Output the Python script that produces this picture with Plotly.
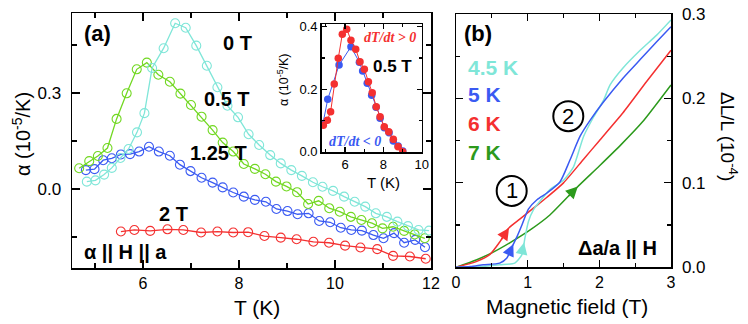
import numpy as np
import plotly.graph_objects as go

# ---------------- Panel (a): thermal expansion alpha(T) ----------------
T_0T = [4.83, 5.01, 5.19, 5.35, 5.53, 5.70, 5.875, 6.03, 6.19, 6.43, 6.67, 6.89, 7.11, 7.33, 7.55,
        7.76, 7.98, 8.20, 8.42, 8.65, 8.87, 9.09, 9.31, 9.54, 9.74, 9.96, 10.19, 10.41, 10.63,
        10.85, 11.08, 11.30, 11.52, 11.74, 11.96]
a_0T = [0.023, 0.027, 0.045, 0.066, 0.097, 0.125, 0.177, 0.237, 0.378, 0.44, 0.518, 0.504, 0.448,
        0.385, 0.318, 0.26, 0.224, 0.171, 0.1375, 0.106, 0.08, 0.059, 0.041, 0.021, 0.007, -0.006,
        -0.024, -0.04, -0.055, -0.076, -0.087, -0.102, -0.116, -0.128, -0.13]

T_05T = [4.67, 4.88, 5.06, 5.26, 5.45, 5.66, 5.87, 6.08, 6.32, 6.56, 6.78, 7.0, 7.22, 7.45, 7.66,
         7.88, 8.10, 8.33, 8.55, 8.77, 8.99, 9.21, 9.44, 9.66, 9.88, 10.10, 10.33, 10.55, 10.77,
         10.99, 11.21, 11.44, 11.66, 11.87]
a_05T = [0.065, 0.087, 0.103, 0.128, 0.219, 0.299, 0.374, 0.395, 0.357, 0.335, 0.298, 0.2625,
         0.226, 0.184, 0.145, 0.117, 0.078, 0.063, 0.046, 0.023, 0.008, -0.01, -0.047, -0.037,
         -0.06, -0.071, -0.087, -0.097, -0.107, -0.123, -0.118, -0.131, -0.142, -0.154]

T_125T = [4.81, 4.99, 5.17, 5.35, 5.54, 5.73, 5.92, 6.125, 6.33, 6.56, 6.77, 6.99, 7.22, 7.45,
          7.66, 7.88, 8.10, 8.33, 8.56, 8.78, 9.01, 9.22, 9.45, 9.67, 9.90, 10.12, 10.34, 10.56,
          10.80, 11.01, 11.23, 11.44, 11.67, 11.875]
a_125T = [0.059, 0.062, 0.09, 0.096, 0.108, 0.109, 0.117, 0.132, 0.117, 0.104, 0.076, 0.056,
          0.035, 0.02, 0.005, -0.011, -0.024, -0.034, -0.04, -0.0625, -0.069, -0.079, -0.076,
          -0.1, -0.104, -0.121, -0.128, -0.13, -0.144, -0.154, -0.138, -0.168, -0.159, -0.182]

T_2T = [5.54, 5.82, 6.15, 6.51, 6.84, 7.21, 7.55, 7.88, 8.19, 8.53, 8.87, 9.20, 9.55, 9.875,
        10.21, 10.53, 10.88, 11.21, 11.56, 11.89]
a_2T = [-0.133, -0.128, -0.131, -0.126, -0.128, -0.136, -0.133, -0.136, -0.135, -0.147, -0.152,
        -0.157, -0.165, -0.168, -0.177, -0.183, -0.188, -0.209, -0.211, -0.218]

# ---------------- Inset: 0.5 T, heating vs cooling ----------------
Ti_up = [4.87, 5.08, 5.25, 5.44, 5.65, 5.86, 6.09, 6.31, 6.56, 6.78, 7.01, 7.22, 7.42, 7.63,
         7.83, 8.05, 8.28, 8.52, 8.77, 9.01]
ai_up = [0.085, 0.101, 0.128, 0.217, 0.299, 0.376, 0.392, 0.357, 0.328, 0.288, 0.264, 0.224,
         0.189, 0.144, 0.112, 0.08, 0.064, 0.04, 0.016, 0.0]
Ti_dn = [4.85, 5.10, 5.69, 6.31, 6.75, 6.92, 7.16, 7.39, 7.62, 7.83, 8.05, 8.30, 8.52, 8.77, 9.01]
ai_dn = [0.09, 0.168, 0.277, 0.336, 0.286, 0.258, 0.219, 0.181, 0.142, 0.107, 0.077, 0.061,
         0.034, 0.018, 0.002]

# ---------------- Panel (b): magnetostriction ----------------
H_45 = [0, 0.3, 0.61, 0.82, 0.92, 0.96, 1.01, 1.08, 1.17, 1.31, 1.5, 1.64, 1.78, 1.92, 2.06,
        2.15, 2.33, 2.57, 2.8, 3.0]
L_45 = [0, 0.0005, 0.003, 0.005, 0.015, 0.034, 0.054, 0.068, 0.078, 0.092, 0.103, 0.119, 0.155,
        0.178, 0.198, 0.216, 0.236, 0.257, 0.275, 0.293]
H_5 = [0, 0.2, 0.38, 0.61, 0.71, 0.78, 0.85, 0.92, 1.01, 1.13, 1.27, 1.45, 1.59, 1.73, 1.87,
       2.06, 2.33, 2.57, 2.8, 3.0]
L_5 = [0, 0.001, 0.003, 0.005, 0.011, 0.024, 0.036, 0.05, 0.069, 0.080, 0.088, 0.101, 0.127,
       0.155, 0.174, 0.196, 0.224, 0.246, 0.267, 0.285]
H_6 = [0, 0.29, 0.47, 0.61, 0.73, 0.89, 1.08, 1.27, 1.5, 1.78, 2.0, 2.33, 2.66, 3.0]
L_6 = [0, 0.007, 0.015, 0.030, 0.046, 0.057, 0.070, 0.083, 0.10, 0.128, 0.15, 0.183, 0.22, 0.257]
H_7 = [0, 0.29, 0.52, 0.75, 1.03, 1.31, 1.68, 2.0, 2.3, 2.6, 3.0]
L_7 = [0, 0.009, 0.018, 0.029, 0.044, 0.062, 0.094, 0.120, 0.145, 0.172, 0.216]

C_CYAN = '#7fe6d8'
C_GREEN = '#72d822'
C_BLUE = '#3a5af2'
C_RED = '#f43030'
C_DGREEN = '#2c9a1c'

FONT = 'Liberation Sans, Arial, sans-serif'
SERIF = 'Liberation Serif, Times New Roman, serif'

W, H = 748, 324
def px(x):
    return x / W
def py(y):
    return 1 - y / H

fig = go.Figure()

def open_series(x, y, color, name):
    fig.add_trace(go.Scatter(
        x=x, y=y, mode='lines+markers', name=name, xaxis='x', yaxis='y',
        line=dict(color=color, width=1.3),
        marker=dict(symbol='circle-open', size=9, color=color, line=dict(width=1.1, color=color)),
        showlegend=False))

open_series(T_2T, a_2T, C_RED, '2 T')
open_series(T_125T, a_125T, C_BLUE, '1.25 T')
open_series(T_05T, a_05T, C_GREEN, '0.5 T')
open_series(T_0T, a_0T, C_CYAN, '0 T')

fig.add_trace(go.Scatter(x=Ti_dn, y=ai_dn, mode='lines+markers', xaxis='x3', yaxis='y3',
                         line=dict(color=C_BLUE, width=1),
                         marker=dict(symbol='circle', size=7.5, color=C_BLUE),
                         showlegend=False, cliponaxis=True))
fig.add_trace(go.Scatter(x=Ti_up, y=ai_up, mode='lines+markers', xaxis='x3', yaxis='y3',
                         line=dict(color=C_RED, width=1),
                         marker=dict(symbol='circle', size=7.5, color=C_RED),
                         showlegend=False, cliponaxis=True))

for hx, ly, c in [(H_7, L_7, C_DGREEN), (H_6, L_6, C_RED), (H_45, L_45, C_CYAN), (H_5, L_5, C_BLUE)]:
    fig.add_trace(go.Scatter(x=hx, y=ly, mode='lines', xaxis='x2', yaxis='y2',
                             line=dict(color=c, width=1.5, shape='spline', smoothing=0.6),
                             showlegend=False))

annotations = []
def txt(x, y, text, size, color='black', bold=True, xanchor='center', family=FONT, angle=0):
    annotations.append(dict(
        x=px(x), y=py(y), xref='paper', yref='paper', showarrow=False,
        text=f'<b>{text}</b>' if bold else text, textangle=angle,
        font=dict(family=family, size=size, color=color), xanchor=xanchor, yanchor='middle'))

# panel (a) labels
txt(97, 33, '(a)', 22)
txt(237, 43, '0 T', 20)
txt(227, 99, '0.5 T', 20)
txt(218, 153, '1.25 T', 20)
txt(173, 214, '2 T', 20)
txt(125, 252, 'α || H || a', 20)
txt(257, 307, 'T (K)', 21, bold=False)
txt(21, 134, 'α (10<sup>-5</sup>/K)', 20, bold=False, angle=-90)
# inset labels
txt(390, 38, '<i>dT/dt &gt; 0</i>', 14, color=C_RED, family=SERIF)
txt(392, 66, '0.5 T', 17)
txt(355, 142, '<i>dT/dt &lt; 0</i>', 14, color=C_BLUE, family=SERIF)
txt(383, 183, 'T (K)', 15, bold=False)
txt(283, 80, 'α (10<sup>-5</sup>/K)', 12.5, bold=False, angle=-90)
# panel (b) labels
txt(478, 33, '(b)', 22)
txt(466, 67, '4.5 K', 21, color=C_CYAN, xanchor='left')
txt(466, 95, '5 K', 21, color=C_BLUE, xanchor='left')
txt(466, 124, '6 K', 21, color=C_RED, xanchor='left')
txt(466, 152, '7 K', 21, color=C_DGREEN, xanchor='left')
txt(659, 248, 'Δa/a || H', 20, xanchor='right')
txt(567, 306, 'Magnetic field (T)', 21, bold=False)
txt(729, 136, 'ΔL/L (10<sup>-4</sup>)', 19, bold=False, angle=90)

# circled step markers (in data coords of panel b)
shapes = []
for (cx, cy, label) in [(0.777, 0.0905, '1'), (1.567, 0.179, '2')]:
    shapes.append(dict(type='circle', xref='x2', yref='y2', xsizemode='pixel', ysizemode='pixel',
                       xanchor=cx, yanchor=cy, x0=-15, x1=15, y0=-15, y1=15,
                       line=dict(color='black', width=2), fillcolor='rgba(0,0,0,0)'))
    annotations.append(dict(x=cx, y=cy, xref='x2', yref='y2', showarrow=False, text=label,
                            font=dict(family=FONT, size=22, color='black'),
                            xanchor='center', yanchor='middle'))

# direction arrows placed on the curves
for hx, ly, c, h0, h1 in [(H_6, L_6, C_RED, 0.62, 0.74), (H_5, L_5, C_BLUE, 0.74, 0.80),
                          (H_45, L_45, C_CYAN, 0.91, 0.95), (H_7, L_7, C_DGREEN, 1.55, 1.70)]:
    annotations.append(dict(
        x=h1, y=float(np.interp(h1, hx, ly)), ax=h0, ay=float(np.interp(h0, hx, ly)),
        xref='x2', yref='y2', axref='x2', ayref='y2', showarrow=True, text='',
        arrowhead=2, arrowsize=1.6, arrowwidth=1.5, arrowcolor=c))

tickfont = dict(family=FONT, size=17, color='black')
xtickfont = dict(family=FONT, size=16, color='black')
axcommon = dict(showline=True, linecolor='black', linewidth=1.5, mirror='ticks', ticks='inside',
                tickcolor='black', tickwidth=1.2, showgrid=False, zeroline=False,
                automargin=False)

fig.update_layout(
    width=W, height=H, margin=dict(l=0, r=0, t=0, b=0, pad=0, autoexpand=False),
    paper_bgcolor='white', plot_bgcolor='rgba(0,0,0,0)', showlegend=False,
    annotations=annotations, shapes=shapes,
    xaxis=dict(domain=[px(72), px(431)], range=[4.521, 12.0], anchor='y',
               tickmode='linear', tick0=0, dtick=2, ticklen=8, tickfont=xtickfont,
               ticklabelstandoff=0,
               minor=dict(dtick=1, tick0=0, ticks='inside', ticklen=5, tickcolor='black'),
               **axcommon),
    yaxis=dict(domain=[py(268), py(13)], range=[-0.2469, 0.55], anchor='x',
               tickmode='linear', tick0=0, dtick=0.3, ticklen=8, tickfont=tickfont,
               tickformat='.1f', ticklabelstandoff=6,
               minor=dict(dtick=0.15, tick0=0, ticks='inside', ticklen=5, tickcolor='black'),
               **axcommon),
    xaxis3=dict(domain=[px(321.7), px(421.7)], range=[4.785, 10.0], anchor='y3',
                tickmode='linear', tick0=0, dtick=2, ticklen=5,
                tickfont=dict(family=FONT, size=13, color='black'),
                minor=dict(dtick=1, tick0=0, ticks='inside', ticklen=3, tickcolor='black'),
                **axcommon),
    yaxis3=dict(domain=[py(152), py(24)], range=[-0.001, 0.4086], anchor='x3',
                tickmode='linear', tick0=0, dtick=0.2, ticklen=5, tickformat='.1f',
                tickfont=dict(family=FONT, size=13, color='black'),
                minor=dict(dtick=0.1, tick0=0, ticks='inside', ticklen=3, tickcolor='black'),
                **axcommon),
    xaxis2=dict(domain=[px(456), px(671)], range=[0, 3], anchor='y2',
                tickmode='linear', tick0=0, dtick=1, ticklen=7, tickfont=xtickfont,
                ticklabelstandoff=0,
                minor=dict(dtick=0.5, tick0=0, ticks='inside', ticklen=4, tickcolor='black'),
                **axcommon),
    yaxis2=dict(domain=[py(267.3), py(14)], range=[0, 0.3], anchor='x2', side='right',
                tickmode='linear', tick0=0, dtick=0.1, ticklen=7, tickformat='.1f',
                tickfont=tickfont, ticklabelstandoff=6,
                minor=dict(dtick=0.05, tick0=0, ticks='inside', ticklen=4, tickcolor='black'),
                **axcommon),
)

fig.write_html('out.html', config={'displayModeBar': False, 'staticPlot': True},
               post_script="document.body.style.margin='0px';"
                           "document.body.style.overflow='hidden';")
